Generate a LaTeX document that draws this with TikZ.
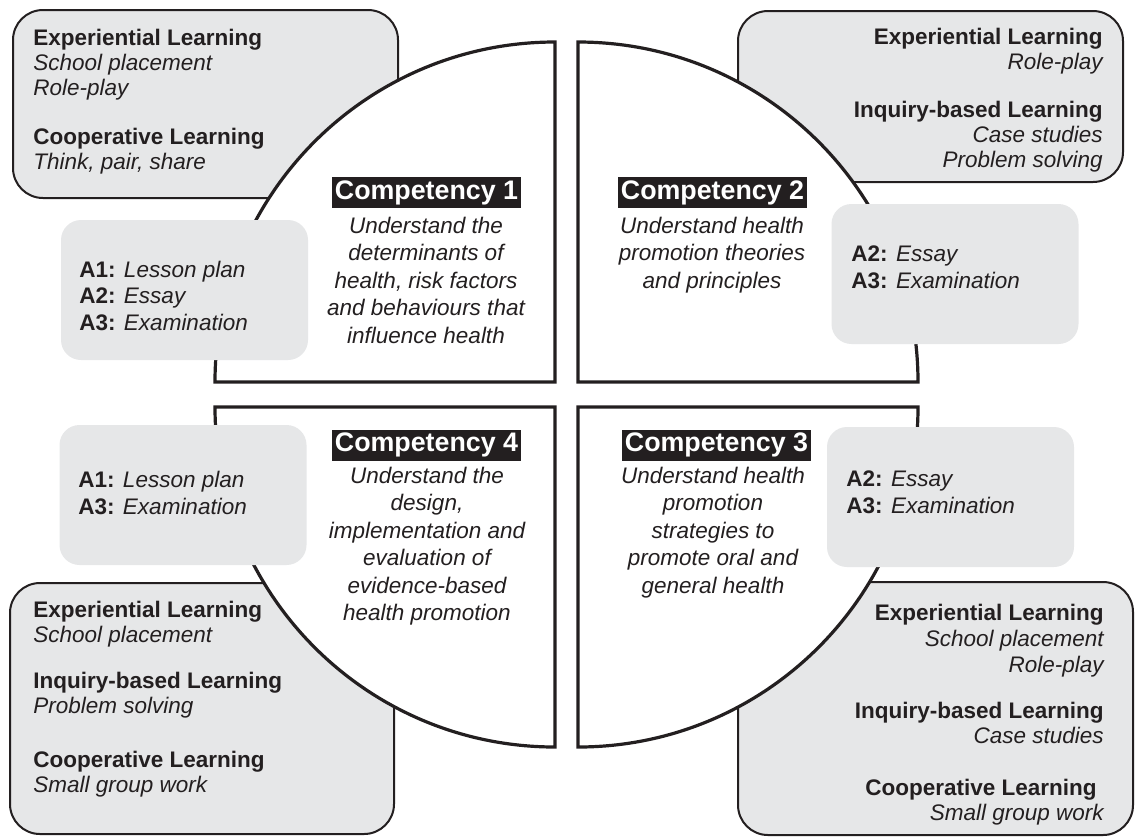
\documentclass[tikz,border=0pt]{standalone}
\usepackage{fontspec}
\setmainfont{Liberation Sans}
\definecolor{boxgray}{HTML}{E6E7E8}
\definecolor{ink}{HTML}{231F20}
\begin{document}
\begin{tikzpicture}[x=0.5pt,y=-0.5pt,
  bigbox/.style={draw=ink, line width=1pt, fill=boxgray, rounded corners=15pt, inner sep=0pt},
  abox/.style={fill=boxgray, rounded corners=10pt, inner sep=0pt, minimum width=123.5pt, minimum height=70pt},
  quad/.style={draw=ink, line width=1.6pt, fill=white},
  bl/.style={inner sep=0pt, text=ink, font=\fontsize{11.25}{12.5}\selectfont\bfseries},
  il/.style={inner sep=0pt, text=ink, font=\fontsize{11.25}{12.5}\selectfont\itshape},
  al/.style={inner sep=0pt, text=ink, font=\fontsize{11.25}{12.5}\selectfont, anchor=base west},
  desc/.style={inner sep=0pt, text=ink, font=\fontsize{11.25}{12.5}\selectfont\itshape, anchor=base},
  hd/.style={fill=ink, text=white, font=\fontsize{13.4}{15}\selectfont\bfseries, minimum width=94.5pt, minimum height=15.5pt, inner sep=0pt},
]
\useasboundingbox (0,0) rectangle (1135,837);
% big boxes
\node[bigbox, minimum width=192.5pt, minimum height=94pt] (tlbox) at (205.5,104) {};
\node[bigbox, minimum width=192.5pt, minimum height=85.5pt] (trbox) at (930.5,96.5) {};
\node[bigbox, minimum width=192pt, minimum height=125.5pt] (blbox) at (202,708.5) {};
\node[bigbox, minimum width=197.5pt, minimum height=126.5pt] (brbox) at (935.5,708.5) {};
% quadrants
\draw[quad] (555,382) -- (215,382) arc[start angle=180, end angle=90, radius=170pt] -- cycle;
\draw[quad] (578,382) -- (578,42) arc[start angle=90, end angle=0, radius=170pt] -- cycle;
\draw[quad] (578,407) -- (918,407) arc[start angle=0, end angle=-90, radius=170pt] -- cycle;
\draw[quad] (555,407) -- (555,747) arc[start angle=270, end angle=180, radius=170pt] -- cycle;
% assessment boxes
\node[abox] (atl) at (184.5,290) {};
\node[abox] (atr) at (955,274) {};
\node[abox] (abl) at (183,495) {};
\node[abox] (abr) at (950.5,497) {};
% top-left learning box
\node[bl, anchor=base west] (tl1) at (33,45) {Experiential Learning};
\node[il, anchor=base west] (tl2) at (33,70) {School placement};
\node[il, anchor=base west] (tl3) at (33,95) {Role-play};
\node[bl, anchor=base west] (tl4) at (33,144) {Cooperative Learning};
\node[il, anchor=base west] (tl5) at (33,169) {Think, pair, share};
% top-right learning box
\node[bl, anchor=base east] (tr1) at (1103,44) {Experiential Learning};
\node[il, anchor=base east] (tr2) at (1103,69) {Role-play};
\node[bl, anchor=base east] (tr3) at (1103,117) {Inquiry-based Learning};
\node[il, anchor=base east] (tr4) at (1103,142) {Case studies};
\node[il, anchor=base east] (tr5) at (1103,167) {Problem solving};
% bottom-left learning box
\node[bl, anchor=base west] (bl1) at (33,617) {Experiential Learning};
\node[il, anchor=base west] (bl2) at (33,642) {School placement};
\node[bl, anchor=base west] (bl3) at (33,688) {Inquiry-based Learning};
\node[il, anchor=base west] (bl4) at (33,713) {Problem solving};
\node[bl, anchor=base west] (bl5) at (33,767) {Cooperative Learning};
\node[il, anchor=base west] (bl6) at (33,792) {Small group work};
% bottom-right learning box
\node[bl, anchor=base east] (br1) at (1104,620) {Experiential Learning};
\node[il, anchor=base east] (br2) at (1104,646) {School placement};
\node[il, anchor=base east] (br3) at (1104,672) {Role-play};
\node[bl, anchor=base east] (br4) at (1104,718) {Inquiry-based Learning};
\node[il, anchor=base east] (br5) at (1104,743) {Case studies};
\node[bl, anchor=base east] (br6) at (1097,795) {Cooperative Learning};
\node[il, anchor=base east] (br7) at (1104,820) {Small group work};
% assessment texts
\node[al] (atl1) at (79,277) {\textbf{A1:} \textit{Lesson plan}};
\node[al] (atl2) at (79,303) {\textbf{A2:} \textit{Essay}};
\node[al] (atl3) at (79,330) {\textbf{A3:} \textit{Examination}};
\node[al] (atr1) at (851,261) {\textbf{A2:} \textit{Essay}};
\node[al] (atr2) at (851,288) {\textbf{A3:} \textit{Examination}};
\node[al] (abl1) at (78,487) {\textbf{A1:} \textit{Lesson plan}};
\node[al] (abl2) at (78,514) {\textbf{A3:} \textit{Examination}};
\node[al] (abr1) at (846,486) {\textbf{A2:} \textit{Essay}};
\node[al] (abr2) at (846,513) {\textbf{A3:} \textit{Examination}};
% competency headings
\node[hd] (c1) at (426.5,192.5) {Competency 1};
\node[hd] (c2) at (712.5,192.5) {Competency 2};
\node[hd] (c4) at (426.5,445) {Competency 4};
\node[hd] (c3) at (716.5,445) {Competency 3};
% descriptions
\node[desc] (d11) at (426,233) {Understand the};
\node[desc] (d12) at (426,260.5) {determinants of};
\node[desc] (d13) at (426,288) {health, risk factors};
\node[desc] (d14) at (426,315.5) {and behaviours that};
\node[desc] (d15) at (426,343) {influence health};
\node[desc] (d21) at (712,233) {Understand health};
\node[desc] (d22) at (712,260.5) {promotion theories};
\node[desc] (d23) at (712,288) {and principles};
\node[desc] (d41) at (427,483) {Understand the};
\node[desc] (d42) at (427,510.5) {design,};
\node[desc] (d43) at (427,538) {implementation and};
\node[desc] (d44) at (427,565.5) {evaluation of};
\node[desc] (d45) at (427,593) {evidence-based};
\node[desc] (d46) at (427,620.5) {health promotion};
\node[desc] (d31) at (713,483) {Understand health};
\node[desc] (d32) at (713,510.5) {promotion};
\node[desc] (d33) at (713,538) {strategies to};
\node[desc] (d34) at (713,565.5) {promote oral and};
\node[desc] (d35) at (713,593) {general health};
\end{tikzpicture}
\end{document}
